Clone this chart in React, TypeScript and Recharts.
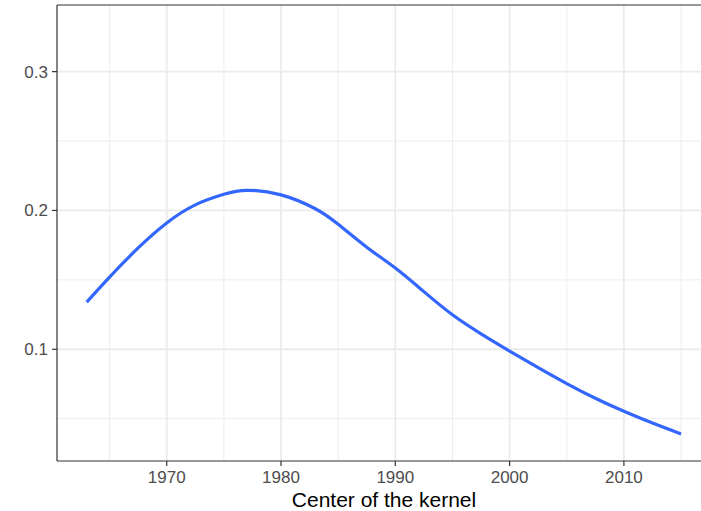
import React from "react";
import { CartesianGrid, Line, LineChart, ReferenceLine, XAxis, YAxis } from "recharts";

const years = [
  1963, 1965, 1967.5, 1970, 1972.5, 1975, 1977, 1980, 1983, 1985, 1987.5, 1990, 1992.5, 1995, 1997.5, 2000, 2002.5,
  2005, 2007.5, 2010, 2012.5, 2015,
];
const smoothValues = [
  0.134, 0.152, 0.173, 0.191, 0.204, 0.2116, 0.2145, 0.2112, 0.2012, 0.19, 0.1735, 0.1585, 0.1415, 0.1248, 0.1111,
  0.0987, 0.0868, 0.0753, 0.0647, 0.0553, 0.0468, 0.039,
];
const xMajorTicks = [1970, 1980, 1990, 2000, 2010];
const xMinorTicks = [1965, 1975, 1985, 1995, 2005, 2015];
const yMajorTicks = [0.1, 0.2, 0.3];
const yMinorTicks = [0.05, 0.15, 0.25];
const xDomain: [number, number] = [1960.4, 2017.62];
const yDomain: [number, number] = [0.0195, 0.348];

const data = years.map((year, i) => ({ year, value: smoothValues[i] }));

const font = '"Liberation Sans", Arial, Helvetica, sans-serif';
const tickStyle = { fill: "#4d4d4d", fontSize: 17, fontFamily: font };

export default function App() {
  return (
    <div style={{ position: "absolute", left: 0, top: 0, width: 701, height: 511, overflow: "hidden", background: "#fff" }}>
      <LineChart width={711} height={511} data={data} margin={{ top: 5, right: 0, bottom: 0, left: 0 }}>
        {/* minor grid on hidden helper axes, major grid on the visible ones */}
        <CartesianGrid
          xAxisId="minor"
          yAxisId="minor"
          stroke="#ebebeb"
          strokeWidth={0.9}
          verticalValues={xMinorTicks}
          horizontalValues={yMinorTicks}
        />
        <CartesianGrid stroke="#ebebeb" strokeWidth={1.8} verticalValues={xMajorTicks} horizontalValues={yMajorTicks} />
        <XAxis
          xAxisId="minor"
          dataKey="year"
          type="number"
          domain={xDomain}
          ticks={xMinorTicks}
          allowDataOverflow
          hide
        />
        <YAxis yAxisId="minor" type="number" domain={yDomain} ticks={yMinorTicks} allowDataOverflow hide />
        <XAxis
          dataKey="year"
          type="number"
          domain={xDomain}
          ticks={xMajorTicks}
          allowDataOverflow
          height={50}
          tickSize={5}
          tickMargin={5}
          tick={tickStyle}
          axisLine={{ stroke: "#333333", strokeWidth: 1.2 }}
          tickLine={{ stroke: "#333333", strokeWidth: 1.2 }}
          label={{
            value: "Center of the kernel",
            position: "insideBottom",
            offset: 4,
            style: { fill: "#000", fontSize: 21, fontFamily: font },
          }}
        />
        <YAxis
          type="number"
          domain={yDomain}
          ticks={yMajorTicks}
          allowDataOverflow
          width={57}
          tickSize={5}
          tickMargin={4}
          tick={tickStyle}
          tickFormatter={(v: number) => String(v)}
          axisLine={{ stroke: "#333333", strokeWidth: 1.2 }}
          tickLine={{ stroke: "#333333", strokeWidth: 1.2 }}
        />
        <ReferenceLine y={yDomain[1]} stroke="#333333" strokeWidth={1.2} />
        <Line
          type="natural"
          dataKey="value"
          stroke="#3366FF"
          strokeWidth={3.2}
          dot={false}
          isAnimationActive={false}
        />
      </LineChart>
    </div>
  );
}
